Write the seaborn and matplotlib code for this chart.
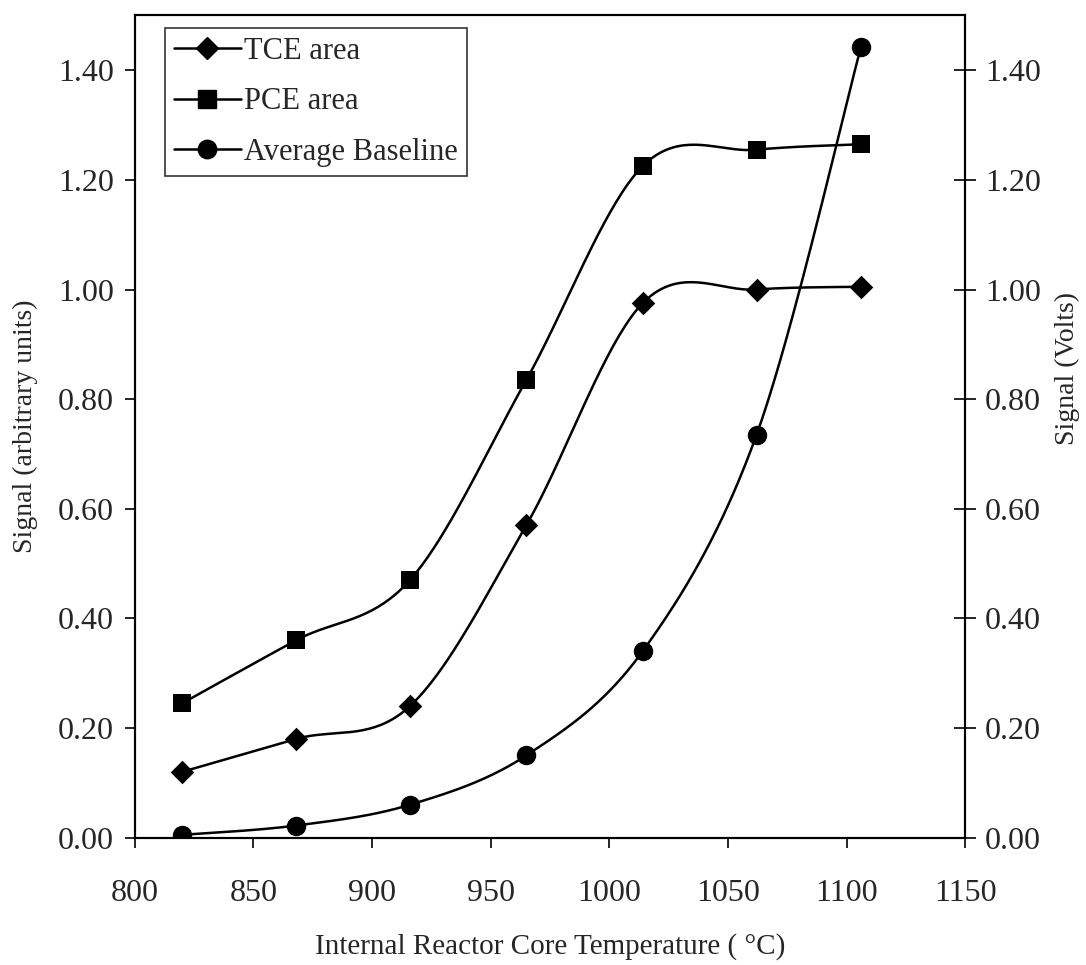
import numpy as np
import pandas as pd
import matplotlib
matplotlib.use("Agg")
import matplotlib.pyplot as plt
from matplotlib.lines import Line2D
import seaborn as sns

# data
temps = [820, 868, 916, 965, 1014, 1062, 1106]
tce_area = [0.12, 0.18, 0.24, 0.57, 0.975, 1.00, 1.005]
pce_area = [0.245, 0.36, 0.47, 0.835, 1.225, 1.255, 1.265]
avg_baseline = [0.005, 0.022, 0.06, 0.15, 0.34, 0.735, 1.443]

series_names = ["TCE area", "PCE area", "Average Baseline"]
series_vals = [tce_area, pce_area, avg_baseline]
markers = ["D", "s", "o"]
msizes = [12, 13, 14]
yticks = [0.0, 0.2, 0.4, 0.6, 0.8, 1.0, 1.2, 1.4]
xticks = [800, 850, 900, 950, 1000, 1050, 1100, 1150]


def excel_smooth(xs, ys, n=40):
    # bezier smoothing like spreadsheet "smoothed line"
    p = np.column_stack([xs, ys]).astype(float)
    p = np.vstack([p[0], p, p[-1]])
    out = []
    for i in range(1, len(p) - 2):
        p0, p1, p2, p3 = p[i - 1], p[i], p[i + 1], p[i + 2]
        c1 = p1 + (p2 - p0) / 6.0
        c2 = p2 - (p3 - p1) / 6.0
        t = np.linspace(0, 1, n)[:, None]
        seg = ((1 - t) ** 3) * p1 + 3 * ((1 - t) ** 2) * t * c1 + 3 * (1 - t) * t ** 2 * c2 + t ** 3 * p2
        out.append(seg if i == 1 else seg[1:])
    return np.vstack(out)


sns.set_theme(style="ticks")
plt.rcParams['font.family'] = ['Liberation Serif', 'DejaVu Serif']

fig = plt.figure(figsize=(10.86, 9.65), dpi=100)
ax = fig.add_axes([0.124, 0.132, 0.765, 0.852])

rows = []
for name, vals in zip(series_names, series_vals):
    curve = excel_smooth(temps, vals)
    for k, (cx, cy) in enumerate(curve):
        rows.append([name, k, cx, cy])
curves = pd.DataFrame(rows, columns=["Series", "k", "Temp", "Signal"])

pts = pd.DataFrame({"Series": np.repeat(series_names, len(temps)),
                    "Temp": temps * 3,
                    "Signal": tce_area + pce_area + avg_baseline})

handles = []
for name, m, ms in zip(series_names, markers, msizes):
    sns.lineplot(data=curves[curves.Series == name], x="Temp", y="Signal", sort=False,
                 color="black", linewidth=1.8, ax=ax, legend=False, estimator=None)
    sns.scatterplot(data=pts[pts.Series == name], x="Temp", y="Signal", marker=m,
                    s=ms ** 2, color="black", edgecolor="black", linewidth=0, ax=ax,
                    legend=False, zorder=5)
    handles.append(Line2D([], [], color="black", lw=1.8, marker=m, markersize=ms * 0.95,
                          label=name))

ax.set_xlim(800, 1150)
ax.set_ylim(0, 1.5)
ax.set_xticks(xticks)
ax.set_yticks(yticks)
ax.set_yticklabels([f"{v:.2f}" for v in yticks])
ax.tick_params(axis="both", labelsize=23, direction="out", length=7, width=1.2, color="black")
ax.tick_params(axis="x", pad=23)
ax.tick_params(axis="y", pad=8)
for sp in ax.spines.values():
    sp.set_visible(True)
    sp.set_linewidth(1.5)
    sp.set_color("black")
ax.set_xlabel("Internal Reactor Core Temperature ( °C)", fontsize=21, labelpad=18)
ax.set_ylabel("Signal (arbitrary units)", fontsize=20, labelpad=14)

ax2 = ax.twinx()
ax2.set_ylim(0, 1.5)
ax2.set_yticks(yticks)
ax2.set_yticklabels([f"{v:.2f}" for v in yticks])
ax2.tick_params(axis="y", labelsize=23, direction="inout", length=16, width=1.2, pad=6, color="black")
ax2.set_ylabel("Signal (Volts)", fontsize=20, labelpad=14)
ax2.yaxis.set_label_coords(1.108, 0.57)
for sp in ax2.spines.values():
    sp.set_linewidth(1.5)
    sp.set_color("black")

leg = ax.legend(handles=handles, loc="upper left", bbox_to_anchor=(0.036, 0.985),
                fontsize=22, frameon=True, fancybox=False, edgecolor="black",
                handlelength=2.2, handletextpad=0.1, borderpad=0.3, labelspacing=0.7,
                borderaxespad=0)
leg.get_frame().set_linewidth(1.2)

fig.savefig("out.png", dpi=100, facecolor="white")
